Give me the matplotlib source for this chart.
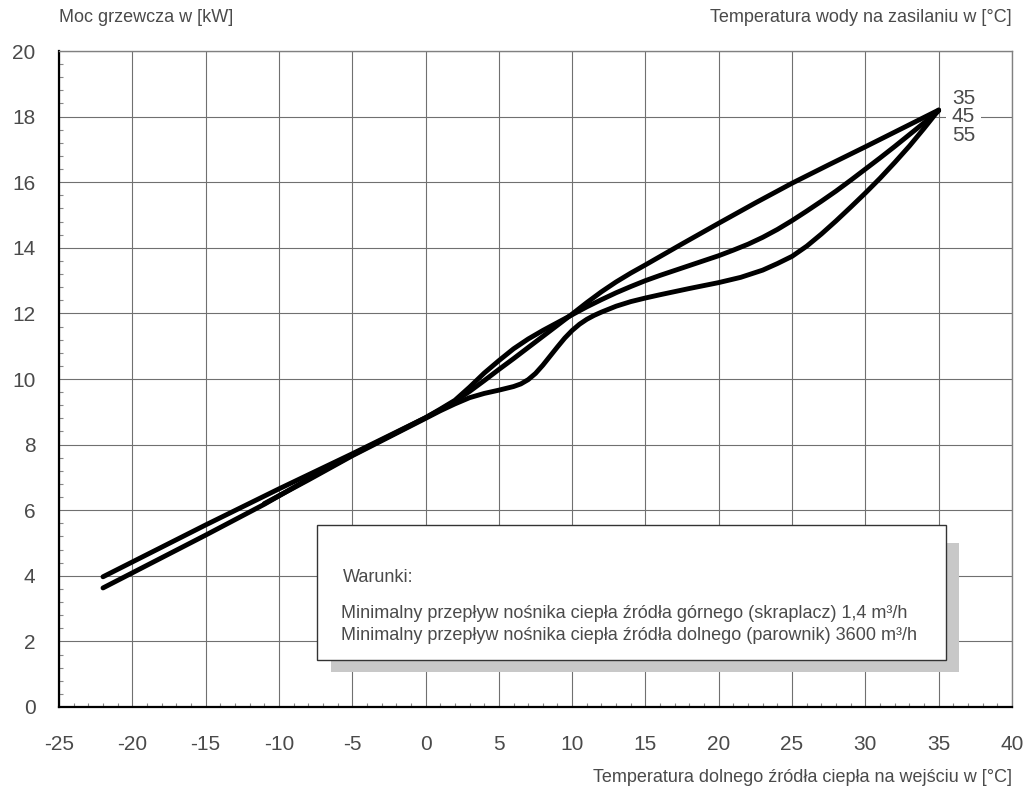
import numpy as np
import matplotlib.pyplot as plt
from matplotlib.patches import Rectangle
from matplotlib.ticker import MultipleLocator

plt.rcParams['font.family'] = ['Liberation Sans', 'DejaVu Sans']

# Heating capacity [kW] vs. source inlet temperature [°C], per supply temperature
t35_x = [-22, -15, -10, -5, 0, 1, 2, 3, 4, 5, 6, 7, 8, 9, 10, 11, 12, 13, 14, 15,
         17.5, 20, 22.5, 25, 27.5, 30, 32.5, 35]
t35_y = [3.97, 5.55, 6.65, 7.72, 8.82, 9.06, 9.32, 9.62, 9.95, 10.29, 10.62, 10.96,
         11.3, 11.64, 11.98, 12.33, 12.66, 12.96, 13.23, 13.48, 14.12, 14.75, 15.37,
         15.97, 16.53, 17.08, 17.64, 18.2]

t45_x = [-22, -15, -11, -8, -5, 0, 1, 2, 3, 4, 5, 6, 7, 8, 9, 10, 11, 12, 13, 14,
         15, 16, 17, 18, 19, 20, 21, 22, 23, 24, 25, 26, 27, 28, 29, 30, 31, 32, 33,
         34, 35]
t45_y = [3.63, 5.24, 6.18, 6.95, 7.68, 8.82, 9.08, 9.35, 9.75, 10.18, 10.56, 10.92,
         11.22, 11.48, 11.72, 11.96, 12.2, 12.42, 12.63, 12.82, 13.0, 13.16, 13.31,
         13.46, 13.61, 13.76, 13.93, 14.11, 14.32, 14.56, 14.83, 15.12, 15.42, 15.73,
         16.06, 16.4, 16.74, 17.09, 17.45, 17.81, 18.18]

t55_x = [-11, -8, -5, 0, 1, 2, 3, 4, 5, 6, 6.5, 7, 7.5, 8, 8.5, 9, 9.5, 10, 10.5,
         11, 11.5, 12, 13, 14, 15, 16, 18, 20, 21.5, 23, 24, 25, 26, 27, 28, 29, 30,
         31, 32, 33, 34, 35]
t55_y = [6.2, 6.92, 7.66, 8.8, 9.03, 9.24, 9.43, 9.56, 9.66, 9.77, 9.85, 9.98,
         10.17, 10.42, 10.7, 10.98, 11.25, 11.48, 11.67, 11.82, 11.94, 12.04, 12.22,
         12.36, 12.47, 12.57, 12.76, 12.94, 13.1, 13.32, 13.52, 13.74, 14.05, 14.42,
         14.82, 15.24, 15.67, 16.12, 16.6, 17.1, 17.64, 18.2]

series = [("35", t35_x, t35_y, 12), ("45", t45_x, t45_y, -6), ("55", t55_x, t55_y, -25)]

x_ticks = list(range(-25, 41, 5))
y_ticks = list(range(0, 21, 2))

ylabel = "Moc grzewcza w [kW]"
xlabel = "Temperatura dolnego źródła ciepła na wejściu w [°C]"
legend_title = "Temperatura wody na zasilaniu w [°C]"
note_lines = [
    "Warunki:",
    "Minimalny przepływ nośnika ciepła źródła górnego (skraplacz) 1,4 m³/h",
    "Minimalny przepływ nośnika ciepła źródła dolnego (parownik) 3600 m³/h",
]

txt_color = "#4a4a4a"
grid_color = "#707070"

fig = plt.figure(figsize=(10.3, 7.91), dpi=100)
ax = fig.add_axes([0.0573, 0.1062, 0.9252, 0.8293])

ax.set_xlim(-25, 40)
ax.set_ylim(0, 20)
ax.set_xticks(x_ticks)
ax.set_yticks(y_ticks)
ax.set_xticklabels([str(v) for v in x_ticks])
ax.set_yticklabels([str(v) for v in y_ticks])
ax.xaxis.set_minor_locator(MultipleLocator(1))
ax.yaxis.set_minor_locator(MultipleLocator(0.4))

ax.tick_params(which='major', length=0, pad=20, labelsize=15, labelcolor=txt_color)
ax.tick_params(axis='y', which='major', pad=17)
ax.tick_params(which='minor', direction='in', length=3, width=0.8, color='#888888')

ax.grid(which='major', color=grid_color, lw=0.8, zorder=1)
ax.set_axisbelow(True)

for side in ('left', 'bottom'):
    ax.spines[side].set_linewidth(1.6)
    ax.spines[side].set_color('black')
for side in ('top', 'right'):
    ax.spines[side].set_linewidth(1.0)
    ax.spines[side].set_color('#808080')

# note box with a grey drop shadow
shadow = Rectangle((0.2854, 0.0534), 0.659, 0.1966, transform=ax.transAxes,
                   facecolor='#c8c8c8', edgecolor='none', zorder=2)
box = Rectangle((0.2707, 0.0716), 0.66, 0.2058, transform=ax.transAxes,
                facecolor='white', edgecolor='#333333', lw=1.0, zorder=3)
ax.add_patch(shadow)
ax.add_patch(box)
ax.text(0.298, 0.198, note_lines[0], transform=ax.transAxes, fontsize=13,
        color=txt_color, va='center', zorder=4)
ax.text(0.296, 0.143, note_lines[1], transform=ax.transAxes, fontsize=13,
        color=txt_color, va='center', zorder=4)
ax.text(0.296, 0.109, note_lines[2], transform=ax.transAxes, fontsize=13,
        color=txt_color, va='center', zorder=4)

for name, xs, ys, dy in series:
    ax.plot(xs, ys, color='black', lw=3.5, solid_capstyle='round',
            solid_joinstyle='round', zorder=6)
    # the middle label sits on the 18 kW grid line, so blank the line behind it
    bbox = dict(facecolor='white', edgecolor='none', pad=4) if name == "45" else None
    ax.annotate(name, xy=(xs[-1], ys[-1]), xytext=(9.5, dy * 0.72),
                textcoords='offset points', fontsize=15, color=txt_color,
                va='center', ha='left', zorder=5 if bbox else 5.5, bbox=bbox)

fig.text(59 / 1030, 1 - 18 / 791, ylabel, fontsize=13, color=txt_color,
         ha='left', va='center')
fig.text(1012 / 1030, 1 - 18 / 791, legend_title, fontsize=13, color=txt_color,
         ha='right', va='center')
fig.text(1012 / 1030, 1 - 777 / 791, xlabel, fontsize=13, color=txt_color,
         ha='right', va='center')

fig.savefig("out.png", dpi=100)
